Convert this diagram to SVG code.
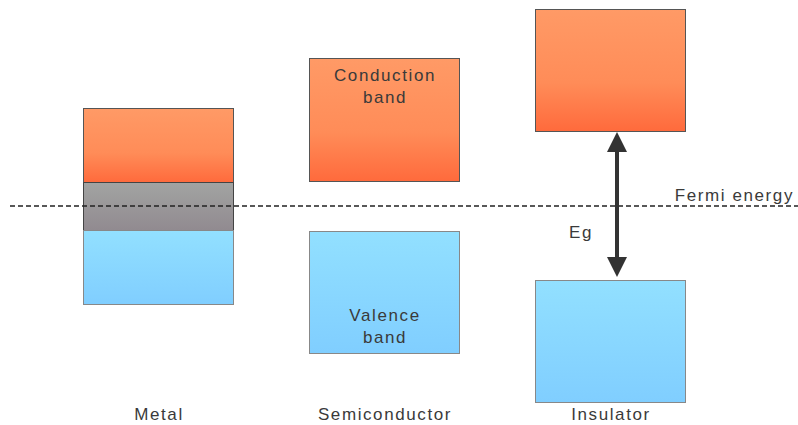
<svg xmlns="http://www.w3.org/2000/svg" width="798" height="425" viewBox="0 0 798 425">
<defs>
<linearGradient id="og" x1="0" y1="0" x2="0" y2="1"><stop offset="0" stop-color="#FF9A66"/><stop offset="0.6" stop-color="#FF8C58"/><stop offset="1" stop-color="#FF6A3C"/></linearGradient>
<linearGradient id="bg" x1="0" y1="0" x2="0" y2="1"><stop offset="0" stop-color="#92E0FF"/><stop offset="1" stop-color="#80CEFF"/></linearGradient>
<linearGradient id="gg" x1="0" y1="0" x2="0" y2="1"><stop offset="0" stop-color="#A2A4A2"/><stop offset="1" stop-color="#918A90"/></linearGradient>
<marker id="ah" viewBox="0 0 10 10" refX="5" refY="5" markerWidth="6" markerHeight="5" orient="auto-start-reverse" markerUnits="strokeWidth"><path d="M0,0 L10,5 L0,10 z" fill="#333"/></marker>
<style>
.o{fill:url(#og);stroke:#555;stroke-width:1}
.b{fill:url(#bg);stroke:#888;stroke-width:1}
.g{fill:url(#gg);stroke:#444;stroke-width:1}
text{font-family:"Liberation Sans",Arial,sans-serif;font-size:17px;letter-spacing:1.6px;fill:#3a3a3a}
</style>
</defs>
<g id="metal">
<rect class="o" x="83.5" y="108.5" width="150" height="74"/>
<rect class="g" x="83.5" y="182.5" width="150" height="48"/>
<rect class="b" x="83.5" y="230.5" width="150" height="74"/>
<text x="159" y="420" text-anchor="middle">Metal</text>
</g>
<g id="semiconductor">
<rect class="o" x="309.5" y="58.5" width="150" height="123"/>
<text x="385" y="81" text-anchor="middle">Conduction</text>
<text x="385" y="103" text-anchor="middle">band</text>
<rect class="b" x="309.5" y="231.5" width="150" height="122"/>
<text x="385" y="321" text-anchor="middle">Valence</text>
<text x="385" y="343" text-anchor="middle">band</text>
<text x="385" y="420" text-anchor="middle">Semiconductor</text>
</g>
<g id="insulator">
<rect class="o" x="535.5" y="9.5" width="150" height="122"/>
<rect class="b" x="535.5" y="280.5" width="150" height="122"/>
<text x="611" y="420" text-anchor="middle">Insulator</text>
</g>
<g id="connectors">
<line x1="10" y1="206" x2="798" y2="206" stroke="#222" stroke-width="1.5" stroke-dasharray="5,3"/>
<line x1="617" y1="142" x2="617" y2="267" stroke="#333" stroke-width="4" marker-start="url(#ah)" marker-end="url(#ah)"/>
<text x="794" y="201" text-anchor="end">Fermi energy</text>
<text x="581" y="238" text-anchor="middle">Eg</text>
</g>
</svg>
